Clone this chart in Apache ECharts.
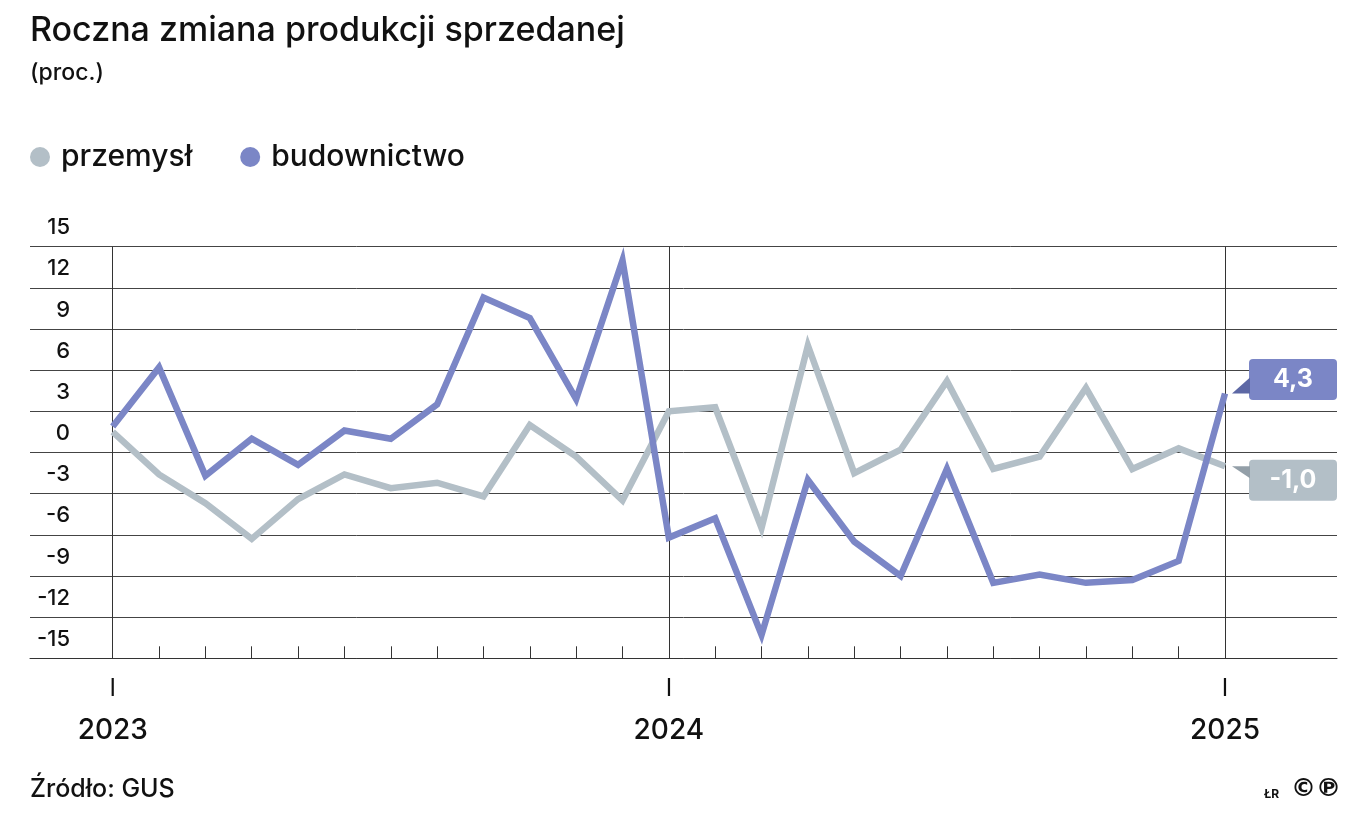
<!DOCTYPE html>
<html>
<head>
<meta charset="utf-8">
<script src="https://cdn.jsdelivr.net/npm/echarts@6/dist/echarts.min.js"></script>
<style>
  html, body { margin: 0; padding: 0; background: #fff; }
  #chart { width: 1360px; height: 831px; }
</style>
</head>
<body>
<div id="chart"></div>
<script>
// miesiące: I 2023 - I 2025
const categories = [
  '2023-01', '2023-02', '2023-03', '2023-04', '2023-05', '2023-06', '2023-07', '2023-08', '2023-09', '2023-10', '2023-11', '2023-12',
  '2024-01', '2024-02', '2024-03', '2024-04', '2024-05', '2024-06', '2024-07', '2024-08', '2024-09', '2024-10', '2024-11', '2024-12',
  '2025-01'
];
const przemysl = [1.5, -1.6, -3.7, -6.3, -3.4, -1.6, -2.6, -2.2, -3.2, 2.0, -0.3, -3.5, 3.0, 3.3, -5.5, 7.8, -1.5, 0.2, 5.2, -1.2, -0.3, 4.7, -1.2, 0.3, -1.0];
const budownictwo = [1.9, 6.2, -1.7, 1.0, -0.9, 1.6, 1.0, 3.5, 11.3, 9.8, 3.9, 14.0, -6.2, -4.8, -13.3, -2.0, -6.5, -9.0, -1.2, -9.5, -8.9, -9.5, -9.3, -7.9, 4.3];
const yTicks = { min: -15, max: 15, step: 3 };

const FONT = 'Inter, Roboto, sans-serif';
const colorGray = '#b3bfc7';
const colorBlue = '#7b86c6';
const last = categories.length - 1;

const fmt = (v) => v.toFixed(1).replace('.', ',');

const chart = echarts.init(document.getElementById('chart'));

const endLabel = (color, dy) => ({
  show: true,
  formatter: (p) => '{a|' + fmt(p.value) + '}',
  distance: 24,
  offset: [0, dy],
  backgroundColor: color,
  borderRadius: 4,
  padding: [8, 0],
  rich: {
    a: { width: 88, align: 'center', lineHeight: 25, color: '#fff', fontFamily: FONT, fontWeight: 'bold', fontSize: 25 }
  }
});

const pointer = (color, path, size, off, value) => ({
  symbol: path,
  symbolSize: size,
  symbolKeepAspect: false,
  silent: true,
  label: { show: false },
  itemStyle: { color: color },
  data: [{ coord: [last, value], symbolOffset: off }]
});

const option = {
  animation: false,
  textStyle: { fontFamily: FONT },
  legend: {
    left: 30,
    top: 142,
    padding: 0,
    icon: 'circle',
    itemWidth: 20,
    itemHeight: 20,
    itemGap: 48,
    textStyle: { fontSize: 30, fontWeight: 500, color: '#111', fontFamily: FONT, padding: [0, 0, 0, 6] },
    data: ['przemysł', 'budownictwo']
  },
  graphic: [
    { type: 'text', left: 30, top: 14, style: { text: 'Roczna zmiana produkcji sprzedanej', fontSize: 34, fontFamily: FONT, fontWeight: 500, fill: '#111' } },
    { type: 'text', left: 30, top: 62, style: { text: '(proc.)', fontSize: 23, fontFamily: FONT, fontWeight: 500, fill: '#111' } },
    { type: 'text', left: 30, top: 777, style: { text: 'Źródło: GUS', fontSize: 25, fontFamily: FONT, fontWeight: 500, fill: '#111' } },
    { type: 'text', left: 1264, top: 788, style: { text: 'ŁR', fontSize: 12, fontFamily: FONT, fontWeight: 'bold', fill: '#111' } },
    { type: 'text', left: 1291, top: 777, style: { text: '©℗', fontSize: 25, fontFamily: '"DejaVu Sans", sans-serif', fontWeight: 'bold', fill: '#111' } }
  ],
  grid: [
    { left: 30, right: 23, top: 246.7, bottom: 172.7 },
    { left: 112.7, width: 1112.3, top: 246.7, bottom: 172.7 }
  ],
  xAxis: [
    {
      gridIndex: 0, type: 'value', min: 0, max: 1, position: 'bottom',
      axisLine: { show: true, onZero: false, lineStyle: { color: '#333', width: 1 } },
      axisTick: { show: false }, axisLabel: { show: false }, splitLine: { show: false }
    },
    {
      gridIndex: 1, type: 'category', data: categories, boundaryGap: false, position: 'bottom',
      axisLine: { show: false, onZero: false },
      axisTick: { show: true, inside: true, length: 12, interval: 0, lineStyle: { color: '#333', width: 1 } },
      splitLine: { show: true, interval: (i) => i % 12 === 0, lineStyle: { color: '#333', width: 1 } },
      axisLabel: {
        interval: (i) => i % 12 === 0,
        margin: 10,
        formatter: (v) => '{m|I}\n{y|' + v.slice(0, 4) + '}',
        rich: {
          m: { fontSize: 24, lineHeight: 41, color: '#111', fontFamily: FONT },
          y: { fontSize: 28, lineHeight: 43, color: '#111', fontFamily: FONT, fontWeight: 500 }
        }
      }
    }
  ],
  yAxis: [
    {
      gridIndex: 0, type: 'value', min: yTicks.min, max: yTicks.max, interval: yTicks.step,
      axisLine: { show: false }, axisTick: { show: false },
      splitLine: { show: true, lineStyle: { color: '#444', width: 1 } },
      axisLabel: {
        inside: true, margin: 40, align: 'right', verticalAlign: 'bottom',
        padding: [0, 0, 8, 0],
        fontSize: 22, fontWeight: 500, color: '#111', fontFamily: FONT
      }
    },
    {
      gridIndex: 1, type: 'value', min: yTicks.min, max: yTicks.max, interval: yTicks.step,
      show: false, splitLine: { show: false }
    }
  ],
  series: [
    {
      name: 'przemysł', type: 'line', xAxisIndex: 1, yAxisIndex: 1,
      data: przemysl, showSymbol: false, symbol: 'none',
      color: colorGray,
      lineStyle: { width: 6.5, color: colorGray, join: 'miter' },
      endLabel: endLabel(colorGray, 14),
      markPoint: pointer('#939fa8', 'path://M0 0 L18 0 L18 12 Z', [18, 12], [16, 6], przemysl[last])
    },
    {
      name: 'budownictwo', type: 'line', xAxisIndex: 1, yAxisIndex: 1,
      data: budownictwo, showSymbol: false, symbol: 'none',
      color: colorBlue,
      lineStyle: { width: 6.5, color: colorBlue, join: 'miter' },
      endLabel: endLabel(colorBlue, -14),
      markPoint: pointer('#5d68a5', 'path://M0 16 L18 0 L18 16 Z', [18, 16], [16, -8], budownictwo[last])
    }
  ]
};

chart.setOption(option);
</script>
</body>
</html>
